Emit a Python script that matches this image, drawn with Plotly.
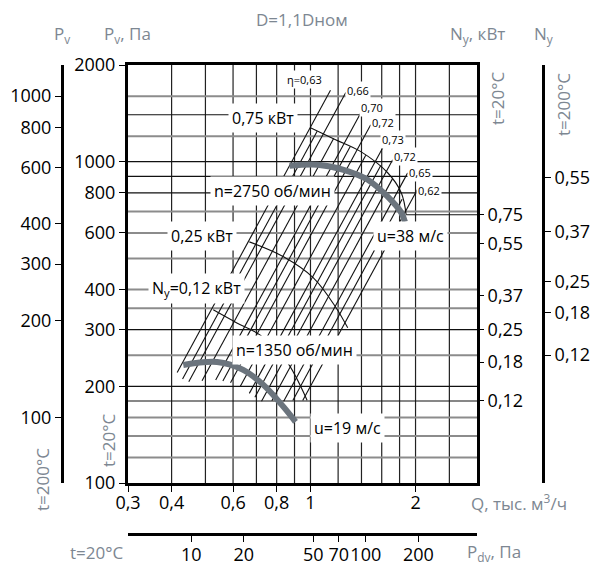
import numpy as np
import plotly.graph_objects as go

W, H = 603, 573          # browser window
OFF = 8                  # default page margin of the html body
WF, HF = W - OFF, H - OFF

# ---------------- data ----------------
q_ticks = [0.3, 0.4, 0.6, 0.8, 1, 2]
q_ticktext = ["0,3", "0,4", "0,6", "0,8", "1", "2"]
pv_ticks = [100, 200, 300, 400, 600, 800, 1000, 2000]
pv200_ticks = [100, 200, 300, 400, 600, 800, 1000]
pdv_ticks = [10, 20, 50, 70, 100, 200]
ny20_labels = ["0,75", "0,55", "0,37", "0,25", "0,18", "0,12"]
ny20_at_pv = [684, 555, 382, 300, 238, 181]
ny200_labels = ["0,55", "0,37", "0,25", "0,18", "0,12"]
ny200_at_pv = [892, 605, 423, 339, 250]

grid_q = [0.4, 0.5, 0.6, 0.7, 0.8, 0.9, 1.0, 1.2, 1.4, 1.6, 1.8, 2.0, 2.5]
grid_pv_gray = [120, 140, 160, 250, 350, 400, 500, 600, 700, 1200, 1600]
grid_pv_black = [180, 200, 300, 800, 900, 1000, 1400]

# fan curves
q_2750 = [0.871, 1.047, 1.244, 1.459, 1.664, 1.82, 1.865]
p_2750 = [972, 979, 944, 879, 778, 694, 650]
q_1350 = [0.432, 0.540, 0.6415, 0.733, 0.837, 0.906]
p_1350 = [233, 238, 225, 202, 172.5, 155]

# power curves
q_n075 = [1.000, 1.180, 1.394, 1.664, 1.82, 1.88]
p_n075 = [1276, 1171, 1075, 924, 801, 684]
q_n075_ext = [1.88, 3.0]
p_n075_ext = [684, 684]
q_n025 = [0.668, 0.837, 1.0195, 1.18, 1.2785]
p_n025 = [563, 506, 435, 353, 304]
q_n012 = [0.5265, 0.6152, 0.7164, 0.8488, 0.9778]
p_n012 = [346, 315, 289, 241.6, 181]

# labelled efficiency lines: P = c*Q^2 between q_lo and q_hi
eta_labels = ["η=0,63", "0,66", "0,70", "0,72", "0,73", "0,72", "0,65", "0,62"]
eta_c = [1281, 1030, 731, 589, 426, 343, 256, 200]
eta_q_lo = [0.415, 0.448, 0.535, 0.59, 0.668, 0.724, 0.838, 0.95]
eta_q_hi = [1.141, 1.2625, 1.394, 1.488, 1.611, 1.72, 1.899, 2.03]
eta_lab_q = [0.961, 1.365, 1.499, 1.611, 1.72, 1.865, 2.058, 2.184]
eta_lab_p = [1801, 1664, 1473, 1323, 1171, 1037, 924, 812]
# unlabelled intermediate lines
mid_c = [1140, 870, 660, 505, 385, 300, 228]
mid_q_lo = [0.43, 0.489, 0.561, 0.629, 0.693, 0.775, 0.89]
mid_q_hi = [1.045, 1.165, 1.30, 1.44, 1.59, 1.72, 1.83]

labels = ["0,75 кВт", "n=2750 об/мин", "u=38 м/с", "0,25 кВт",
          "N<sub>y</sub>=0,12 кВт", "n=1350 об/мин", "u=19 м/с"]
labels_q = [0.733, 0.777, 1.938, 0.4897, 0.4707, 0.90, 1.278]
labels_p = [1371, 812, 588, 588, 402, 259.6, 148]

# --------------- figure ---------------
FONT = "Open Sans"
GRAY_TXT = "#7d8792"
CURVE = "#6b747d"


def px_x(px):
    return (px - OFF) / WF


def px_y(py):
    return 1 - (py - OFF) / HF


xd = [px_x(128), px_x(477)]
yd = [px_y(483), px_y(65)]

fig = go.Figure()


def seg_trace(xs, ys, color, width, shape="linear"):
    fig.add_trace(go.Scatter(x=xs, y=ys, mode="lines",
                             line=dict(color=color, width=width, shape=shape),
                             hoverinfo="skip", showlegend=False, connectgaps=False))


# grid verticals
gx, gy = [], []
for q in grid_q:
    gx += [q, q, None]
    gy += [100, 2000, None]
seg_trace(gx, gy, "#222222", 1.2)
# grid horizontals
gx, gy = [], []
for p in grid_pv_gray:
    gx += [0.3, 3.0, None]
    gy += [p, p, None]
seg_trace(gx, gy, "#8c8c8c", 2)
gx, gy = [], []
for p in grid_pv_black:
    gx += [0.3, 3.0, None]
    gy += [p, p, None]
seg_trace(gx, gy, "#111111", 1.2)

# eta lines
ex, ey = [], []
for c, lo, hi in list(zip(eta_c, eta_q_lo, eta_q_hi)) + list(zip(mid_c, mid_q_lo, mid_q_hi)):
    qs = np.array([lo, hi])
    ex += list(qs) + [None]
    ey += list(c * qs ** 2) + [None]
seg_trace(ex, ey, "#111111", 1.1)

# power curves
for qq, pp in [(q_n075, p_n075), (q_n025, p_n025), (q_n012, p_n012)]:
    seg_trace(qq, pp, "#111111", 1.1, shape="spline")
seg_trace(q_n075_ext, p_n075_ext, "#111111", 1.1)

# fan curves
for qq, pp in [(q_2750, p_2750), (q_1350, p_1350)]:
    seg_trace(qq, pp, CURVE, 6, shape="spline")

# dummy traces to activate the extra axes
for xa, ya in [("x", "y2"), ("x", "y3"), ("x", "y4"), ("x2", "y")]:
    fig.add_trace(go.Scatter(x=[], y=[], xaxis=xa, yaxis=ya, showlegend=False, hoverinfo="skip"))

tickfont = dict(family=FONT, size=18, color="black")
lg = np.log10
common = dict(ticks="outside", ticklen=6, tickcolor="black", tickfont=tickfont,
              showgrid=False, zeroline=False, automargin=False, tickangle=0)
fig.update_layout(
    width=WF, height=HF, margin=dict(l=0, r=0, t=0, b=0, pad=0),
    paper_bgcolor="white", plot_bgcolor="white",
    font=dict(family=FONT),
    xaxis=dict(type="log", range=[lg(0.3), lg(3.0)], domain=xd, anchor="y",
               tickvals=q_ticks, ticktext=q_ticktext, ticklabelstandoff=-5,
               showline=True, linecolor="black", linewidth=3, mirror=True, **common),
    yaxis=dict(type="log", range=[2, lg(2000)], domain=yd, anchor="x",
               tickvals=pv_ticks, ticktext=[str(v) for v in pv_ticks],
               showline=True, linecolor="black", linewidth=3, mirror=True, **common),
    yaxis2=dict(type="log", range=[lg(2000 * 0.625) - lg(20), lg(2000 * 0.625)], overlaying="y",
                anchor="free", position=px_x(62), side="left",
                tickvals=pv200_ticks, ticktext=[str(v) for v in pv200_ticks],
                showline=True, linecolor="black", linewidth=3, **common),
    yaxis3=dict(type="log", range=[2, lg(2000)], overlaying="y", anchor="x", side="right",
                tickvals=ny20_at_pv, ticktext=ny20_labels, showline=False, **common),
    yaxis4=dict(type="log", range=[2, lg(2000)], overlaying="y", anchor="free",
                position=px_x(543), side="right",
                tickvals=ny200_at_pv, ticktext=ny200_labels,
                showline=True, linecolor="black", linewidth=3, **common),
    xaxis2=dict(type="log", range=[lg(48.2 * 0.09), lg(48.2 * 9)], overlaying="x",
                anchor="free", position=px_y(534), side="bottom",
                tickvals=pdv_ticks, ticktext=[str(v) for v in pdv_ticks], ticklabelstandoff=-3,
                showline=True, linecolor="black", linewidth=3, **common),
)

ann = []
for t, q, p in zip(eta_labels, eta_lab_q, eta_lab_p):
    ann.append(dict(x=lg(q), y=lg(p), xref="x", yref="y", text=t, showarrow=False,
                    xanchor="center", yanchor="middle",
                    font=dict(family=FONT, size=11, color="black"), bgcolor="white", borderpad=1))
for t, q, p in zip(labels, labels_q, labels_p):
    ann.append(dict(x=lg(q), y=lg(p), xref="x", yref="y", text=t, showarrow=False,
                    xanchor="center", yanchor="middle",
                    font=dict(family=FONT, size=16, color="black"), bgcolor="white", borderpad=3))


def outer(text, px, py, size=17, angle=0, color=GRAY_TXT):
    ann.append(dict(x=px_x(px), y=px_y(py), xref="paper", yref="paper", text=text,
                    showarrow=False, textangle=angle, xanchor="center", yanchor="middle",
                    font=dict(family=FONT, size=size, color=color)))


outer("P<sub>v</sub>", 62, 34)
outer("P<sub>v</sub>, Па", 127, 34)
outer("D=1,1Dном", 302, 20)
outer("N<sub>y</sub>, кВт", 477, 34)
outer("N<sub>y</sub>", 543, 34)
outer("t=20°C", 497, 98, angle=-90)
outer("t=200°C", 564, 105, angle=-90)
outer("t=20°C", 108, 440, angle=-90)
outer("t=200°C", 42, 480, angle=-90)
outer("Q, тыс. м<sup>3</sup>/ч", 519, 502)
outer("t=20°C", 97, 552)
outer("P<sub>dv</sub>, Па", 494, 552)
fig.update_layout(annotations=ann)

fig.write_html("out.html")
